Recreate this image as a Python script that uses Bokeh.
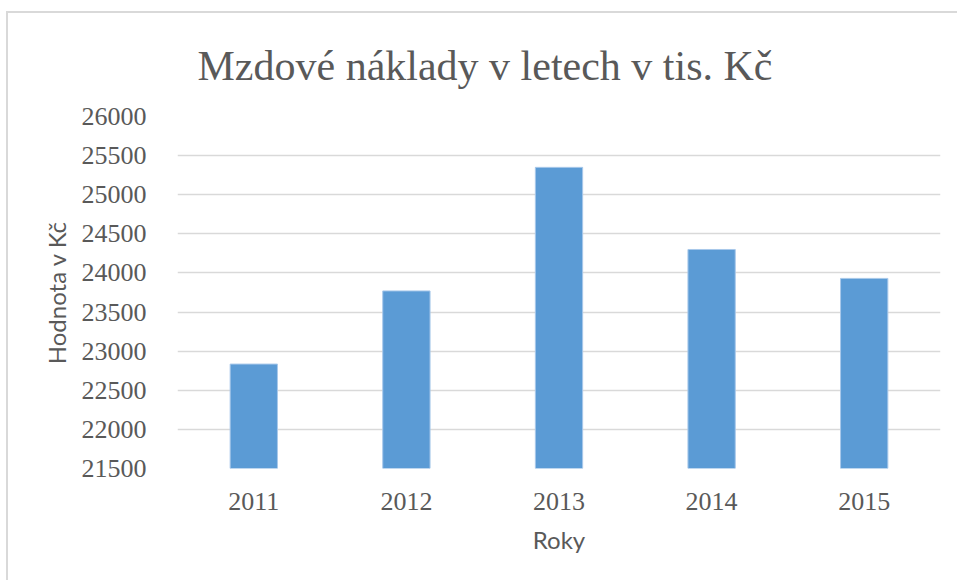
from bokeh.plotting import figure
from bokeh.models import ColumnDataSource, FactorRange, Range1d, SingleIntervalTicker
from bokeh.embed import file_html
from bokeh.resources import INLINE

years = ["2011", "2012", "2013", "2014", "2015"]
values = [22835, 23770, 25350, 24300, 23930]
y_start, y_end, y_step = 21500, 26000, 500

title_text = "Mzdové náklady v letech v tis. Kč"
x_title = "Roky"
y_title = "Hodnota v Kč"

src = ColumnDataSource(data=dict(x=years, top=values, bottom=[y_start] * len(years)))

p = figure(
    width=955, height=569,
    x_range=FactorRange(*years),
    y_range=Range1d(y_start, y_end),
    output_backend="svg", toolbar_location=None,
    min_border_left=169, min_border_right=23,
    min_border_top=0, min_border_bottom=114,
)
p.styles = {"border-top": "2px solid #d9d9d9", "border-left": "2px solid #d9d9d9",
            "margin-top": "11px", "margin-left": "6px"}

p.vbar(x="x", top="top", bottom="bottom", width=0.31, source=src,
       fill_color="#5b9bd5", line_color="#a8c8ea", line_width=1)

p.title.text = title_text
p.title.text_font = "Liberation Serif"
p.title.text_font_size = "42px"
p.title.text_font_style = "normal"
p.title.text_color = "#595959"
p.title.align = "left"
p.title.offset = 20
p.title.padding = dict(top=0, bottom=0, left=0, right=0)
p.title.standoff = 55

p.outline_line_color = None
p.background_fill_color = "white"
p.border_fill_color = "white"

p.xgrid.grid_line_color = None
p.ygrid.grid_line_color = "#d9d9d9"
p.ygrid.grid_line_width = 1.5

p.yaxis.ticker = SingleIntervalTicker(interval=y_step)
for ax in (p.xaxis, p.yaxis):
    ax.axis_line_color = None
    ax.major_tick_line_color = None
    ax.minor_tick_line_color = None
    ax.major_label_text_font = "Liberation Serif"
    ax.major_label_text_font_size = "26px"
    ax.major_label_text_color = "#595959"
    ax.axis_label_text_font = "Lato"
    ax.axis_label_text_font_size = "24px"
    ax.axis_label_text_font_style = "normal"
    ax.axis_label_text_color = "#595959"

p.xaxis.axis_label = x_title
p.yaxis.axis_label = y_title
p.yaxis.major_label_standoff = 25
p.xaxis.major_label_standoff = 18
p.yaxis.axis_label_standoff = 8
p.xaxis.axis_label_standoff = 12

open("out.html", "w").write(file_html(p, INLINE))
